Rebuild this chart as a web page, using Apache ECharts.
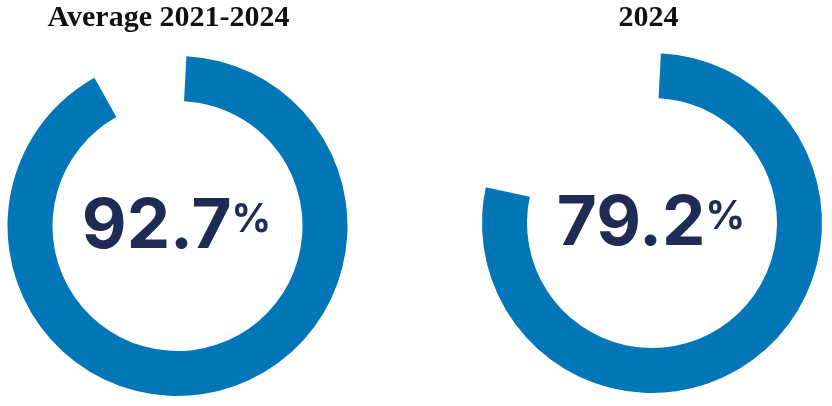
<!DOCTYPE html>
<html>
<head>
<meta charset="utf-8">
<script src="https://cdn.jsdelivr.net/npm/echarts@6/dist/echarts.min.js"></script>
<style>
html,body{margin:0;padding:0;background:#fff;}
#c{width:832px;height:406px;}
</style>
</head>
<body>
<div id="c"></div>
<script>
const titles = ['Average 2021-2024', '2024'];
const values = [92.7, 79.2];
const centers = [[177.5, 226], [652, 223]];
const titleX = [163.5, 643.5];

const ringColor = '#0376b8';
const textColor = '#1f2b55';

const chart = echarts.init(document.getElementById('c'), null, {renderer: 'canvas'});

const series = values.map((v, i) => ({
  type: 'pie',
  center: centers[i],
  radius: [125, 170],
  startAngle: 90,
  padAngle: 6,
  clockwise: true,
  silent: true,
  animation: false,
  avoidLabelOverlap: false,
  labelLine: {show: false},
  emphasis: {disabled: true},
  data: [
    {
      value: v,
      itemStyle: {color: ringColor},
      label: {
        show: true,
        position: 'center',
        offset: [-1, 1],
        formatter: '{v|' + v.toFixed(1) + '}{p|%}',
        rich: {
          v: {fontFamily: 'Inter', fontWeight: 'bold', fontSize: 69, color: textColor, lineHeight: 74},
          p: {fontFamily: 'Inter', fontWeight: 'bold', fontSize: 39, color: textColor, lineHeight: 74, padding: [0, 0, 14, 0]}
        }
      }
    },
    {
      value: +(100 - v).toFixed(1),
      itemStyle: {color: 'rgba(0,0,0,0)'},
      label: {show: false}
    }
  ]
}));

chart.setOption({
  backgroundColor: '#ffffff',
  title: titles.map((t, i) => ({
    text: t,
    left: titleX[i],
    top: -2,
    textAlign: 'center',
    textStyle: {fontFamily: 'Liberation Serif', fontWeight: 'bold', fontSize: 30, color: '#111111'}
  })),
  series: series
});
</script>
</body>
</html>
